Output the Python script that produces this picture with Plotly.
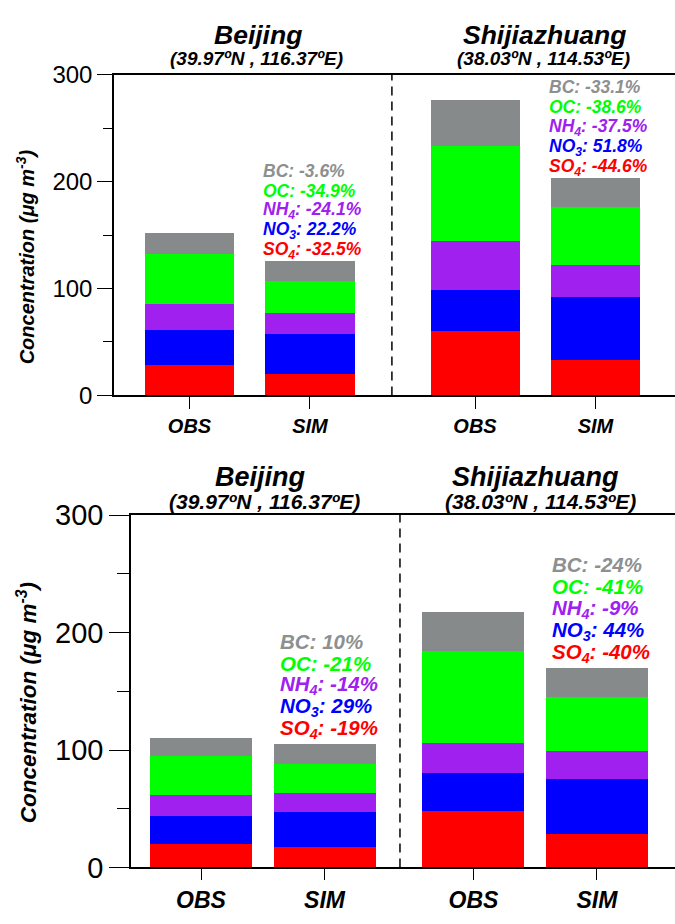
import plotly.graph_objects as go

W, H = 675, 924

# ---------------- data ----------------
sites = ["Beijing", "Shijiazhuang"]
site_coords = ["(39.97ºN , 116.37ºE)", "(38.03ºN , 114.53ºE)"]
runs = ["OBS", "SIM"]
species = ["SO4", "NO3", "NH4", "OC", "BC"]
species_labels = ["SO<sub>4</sub>", "NO<sub>3</sub>", "NH<sub>4</sub>", "OC", "BC"]

# panel 1 (top): values per species for [Beijing OBS, Beijing SIM, Shijiazhuang OBS, Shijiazhuang SIM]
top_SO4 = [29, 20, 60, 33]
top_NO3 = [32, 38, 39, 59]
top_NH4 = [25, 19, 46, 30]
top_OC = [46, 30, 89, 54]
top_BC = [20, 19, 43, 28]
top_pct_beijing = ["-32.5%", "22.2%", "-24.1%", "-34.9%", "-3.6%"]
top_pct_shijiazhuang = ["-44.6%", "51.8%", "-37.5%", "-38.6%", "-33.1%"]

# panel 2 (bottom)
bot_SO4 = [20, 17, 48, 28]
bot_NO3 = [24, 30, 32, 47]
bot_NH4 = [18, 16, 26, 24]
bot_OC = [33, 25, 78, 46]
bot_BC = [15, 17, 33, 25]
bot_pct_beijing = ["-19%", "29%", "-14%", "-21%", "10%"]
bot_pct_shijiazhuang = ["-40%", "44%", "-9%", "-41%", "-24%"]

y_ticks = [0, 100, 200, 300]
y_minor = [50, 150, 250]

# ---------------- styles ----------------
bar_colors = ["#ff0000", "#0000ff", "#a020f0", "#00ff00", "#878a8a"]
text_colors = ["#ff0000", "#0000ff", "#a020f0", "#00ff00", "#8c9090"]
FONT = "Liberation Sans, Arial, sans-serif"

panels = [
    dict(vals=[top_SO4, top_NO3, top_NH4, top_OC, top_BC],
         pct=[top_pct_beijing, top_pct_shijiazhuang],
         gap=2.37, width=0.739, xrange=[-0.627, 4.03], dash_x=1.68,
         xdom=[114 / W, 1.0], ydom=[1 - 393 / H, 1 - 61 / H],
         tickfont=24, xtickfont=20, ticklen=15, minorlen=9, xticklen=12,
         pctfont=17.5, pct_off=10, pct_step=20, pct_xshift=-4,
         title_y=[20, 44], title_font=[26.5, 19], title_x=[[258, 544], [256, 543]],
         ylabel=dict(x=25, y=250, size=20)),
    dict(vals=[bot_SO4, bot_NO3, bot_NH4, bot_OC, bot_BC],
         pct=[bot_pct_beijing, bot_pct_shijiazhuang],
         gap=2.206, width=0.826, xrange=[-0.567, 3.838], dash_x=1.611,
         xdom=[131 / W, 1.0], ydom=[1 - 882 / H, 1 - 517 / H],
         tickfont=29, xtickfont=23, ticklen=20, minorlen=12, xticklen=11,
         pctfont=20.5, pct_off=15, pct_step=22, pct_xshift=4,
         title_y=[478, 503], title_font=[27, 21], title_x=[[260, 535], [264, 540]],
         ylabel=dict(x=27, y=712, size=22.5)),
]

fig = go.Figure()
annotations = []
shapes = []
layout_axes = {}

for p_i, p in enumerate(panels):
    sfx = "" if p_i == 0 else str(p_i + 1)
    xa, ya = "x" + sfx, "y" + sfx
    positions = [s_i * p["gap"] + r_i for s_i in range(len(sites)) for r_i in range(len(runs))]
    for k, sp in enumerate(species):
        fig.add_trace(go.Bar(
            x=positions, y=p["vals"][k], width=p["width"],
            marker=dict(color=bar_colors[k], line=dict(width=0)),
            name=sp, showlegend=False, xaxis=xa, yaxis=ya,
        ))
    totals = [sum(p["vals"][k][j] for k in range(len(species))) for j in range(len(positions))]

    # percentage labels above SIM bars
    for s_i in range(len(sites)):
        j = s_i * len(runs) + 1
        for k in range(len(species)):
            annotations.append(dict(
                x=positions[j] - p["width"] / 2, y=totals[j], xref=xa, yref=ya,
                xanchor="left", yanchor="middle", showarrow=False,
                xshift=p["pct_xshift"], yshift=p["pct_off"] + k * p["pct_step"],
                text="<b><i>%s: %s</i></b>" % (species_labels[k], p["pct"][s_i][k]),
                font=dict(family=FONT, size=p["pctfont"], color=text_colors[k]),
            ))
        # site titles
        annotations.append(dict(
            x=p["title_x"][0][s_i] / W, y=1 - p["title_y"][0] / H, xref="paper", yref="paper",
            xanchor="center", yanchor="middle", showarrow=False,
            text="<b><i>%s</i></b>" % sites[s_i],
            font=dict(family=FONT, size=p["title_font"][0], color="black")))
        annotations.append(dict(
            x=p["title_x"][1][s_i] / W, y=1 - p["title_y"][1] / H, xref="paper", yref="paper",
            xanchor="center", yanchor="middle", showarrow=False,
            text="<b><i>%s</i></b>" % site_coords[s_i],
            font=dict(family=FONT, size=p["title_font"][1], color="black")))

    # y-axis title
    annotations.append(dict(
        x=p["ylabel"]["x"] / W, y=1 - p["ylabel"]["y"] / H, xref="paper", yref="paper",
        xanchor="center", yanchor="middle", showarrow=False, textangle=-90,
        text="<b><i>Concentration (μg m<sup>-3</sup>)</i></b>",
        font=dict(family=FONT, size=p["ylabel"]["size"], color="black")))

    # dashed separator
    shapes.append(dict(type="line", xref=xa, yref=ya, x0=p["dash_x"], x1=p["dash_x"],
                       y0=0, y1=300, line=dict(color="black", width=1.5, dash="9px,6px")))

    layout_axes["xaxis" + sfx] = dict(
        domain=p["xdom"], range=p["xrange"], anchor=ya,
        tickmode="array", tickvals=positions,
        ticktext=["<b><i>%s</i></b>" % runs[j % len(runs)] for j in range(len(positions))],
        ticks="outside", ticklen=p["xticklen"], tickwidth=1.3, tickcolor="black",
        showline=True, linecolor="black", linewidth=1.5, mirror=True,
        showgrid=False, zeroline=False,
        tickfont=dict(family=FONT, size=p["xtickfont"], color="black"),
        fixedrange=True,
    )
    layout_axes["yaxis" + sfx] = dict(
        domain=p["ydom"], range=[0, 300], anchor=xa,
        tickmode="array", tickvals=y_ticks,
        ticks="outside", ticklen=p["ticklen"], tickwidth=1.3, tickcolor="black",
        minor=dict(tickmode="array", tickvals=y_minor, ticks="outside",
                   ticklen=p["minorlen"], tickwidth=1.3, tickcolor="black", showgrid=False),
        showline=True, linecolor="black", linewidth=1.5,
        showgrid=False, zeroline=False,
        tickfont=dict(family=FONT, size=p["tickfont"], color="black"),
        fixedrange=True,
    )

fig.update_layout(
    width=W, height=H, margin=dict(l=0, r=0, t=0, b=0),
    paper_bgcolor="white", plot_bgcolor="white",
    barmode="stack", bargap=0,
    annotations=annotations, shapes=shapes,
    **layout_axes,
)

fig.write_html("out.html", config={"displayModeBar": False},
               post_script="document.body.style.margin='0';document.body.style.overflow='hidden';")
